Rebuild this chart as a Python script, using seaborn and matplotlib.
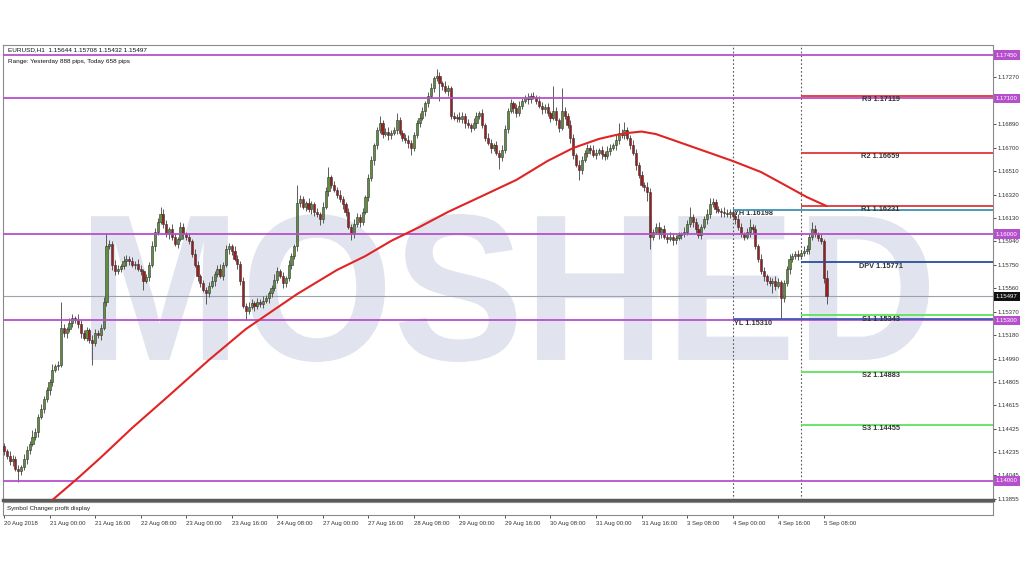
import matplotlib

matplotlib.use("Agg")
import matplotlib.pyplot as plt
import numpy as np
import pandas as pd
import seaborn as sns
from matplotlib.font_manager import FontProperties
from matplotlib.patches import PathPatch
from matplotlib.textpath import TextPath
from matplotlib.transforms import Affine2D, blended_transform_factory

# EURUSD H1 candles, 20 Aug 2018 08:00 onward (one value per hourly bar)
FIRST_OPEN = 1.1428
CLOSES = [
    1.1424, 1.1420, 1.1416, 1.1418, 1.1410, 1.1408, 1.1411, 1.1418, 1.1425, 1.1430,
    1.1436, 1.1440, 1.1452, 1.1458, 1.1466, 1.1474, 1.1480, 1.1490, 1.1493, 1.1494,
    1.1524, 1.1520, 1.1523, 1.1528, 1.1532, 1.1530, 1.1527, 1.1520, 1.1516, 1.1522,
    1.1514, 1.1512, 1.1520, 1.1518, 1.1524, 1.1545, 1.1590, 1.1592, 1.1575, 1.1570,
    1.1572, 1.1574, 1.1578, 1.1580, 1.1578, 1.1575, 1.1576, 1.1572, 1.1570, 1.1562,
    1.1565, 1.1575, 1.1590, 1.1602, 1.1610, 1.1616, 1.1608, 1.1600, 1.1604, 1.1598,
    1.1592, 1.1596, 1.1606, 1.1600, 1.1598, 1.1594, 1.1584, 1.1575, 1.1566, 1.1560,
    1.1555, 1.1552, 1.1558, 1.1562, 1.1568, 1.1572, 1.1566, 1.1575, 1.1588, 1.1590,
    1.1586, 1.1580, 1.1576, 1.1562, 1.1542, 1.1538, 1.1541, 1.1544, 1.1542, 1.1545,
    1.1543, 1.1546, 1.1548, 1.1552, 1.1556, 1.1563, 1.1570, 1.1566, 1.1560, 1.1564,
    1.1575, 1.1582, 1.1590, 1.1625, 1.1628, 1.1622, 1.1625, 1.1620, 1.1624, 1.1618,
    1.1616, 1.1612, 1.1622, 1.1635, 1.1646, 1.1640, 1.1636, 1.1632, 1.1628, 1.1624,
    1.1618, 1.1606, 1.1600, 1.1608, 1.1614, 1.1610, 1.1618, 1.1630, 1.1645, 1.1660,
    1.1672, 1.1684, 1.1690, 1.1681, 1.1683, 1.1680, 1.1682, 1.1684, 1.1692, 1.1682,
    1.1678, 1.1676, 1.1674, 1.1670, 1.1680, 1.1690, 1.1694, 1.1700, 1.1706, 1.1712,
    1.1718, 1.1726, 1.1728, 1.1722, 1.1720, 1.1716, 1.1718, 1.1696, 1.1694, 1.1695,
    1.1693, 1.1696, 1.1690, 1.1688, 1.1686, 1.1690, 1.1696, 1.1698, 1.1688, 1.1678,
    1.1674, 1.1670, 1.1672, 1.1666, 1.1662, 1.1668, 1.1685, 1.1700, 1.1706, 1.1702,
    1.1698, 1.1704, 1.1708, 1.1710, 1.1709, 1.1712, 1.1711, 1.1708, 1.1704, 1.1701,
    1.1703, 1.1698, 1.1694, 1.1700, 1.1692, 1.1686, 1.1700, 1.1696, 1.1688, 1.1678,
    1.1664, 1.1656, 1.1652, 1.1660, 1.1666, 1.1670, 1.1668, 1.1664, 1.1666, 1.1668,
    1.1665, 1.1663, 1.1667, 1.1670, 1.1672, 1.1676, 1.1682, 1.1680, 1.1684, 1.1678,
    1.1672, 1.1666, 1.1656, 1.1648, 1.1640, 1.1638, 1.1634, 1.1598, 1.1602, 1.1606,
    1.1600, 1.1604, 1.1598, 1.1596, 1.1598, 1.1595, 1.1597, 1.1599, 1.1600, 1.1602,
    1.1608, 1.1614, 1.1610, 1.1604, 1.1599, 1.1606, 1.1612, 1.1616, 1.1624, 1.1626,
    1.1620, 1.1619, 1.1618, 1.1617, 1.1616, 1.1618, 1.1615, 1.1612, 1.1606, 1.1600,
    1.1598, 1.1602, 1.1606, 1.1604, 1.1590, 1.1580, 1.1570, 1.1566, 1.1562, 1.1560,
    1.1562, 1.1558, 1.1561, 1.1548, 1.1560, 1.1572, 1.1580, 1.1582, 1.1584, 1.1582,
    1.1585, 1.1586, 1.1588, 1.1598, 1.1604, 1.1600, 1.1597, 1.1594, 1.15644, 1.15497,
]
UPPER_WICK_PIPS = [
    3, 2, 4, 3, 2, 3, 2, 4, 3, 2,  5, 3, 2, 4, 3, 2, 3, 5, 2, 3,
    21, 3, 2, 4, 3, 2, 5, 3, 2, 3,  2, 4, 3, 2, 3, 4, 11, 3, 2, 4,
    3, 2, 4, 3, 2, 3, 2, 4, 3, 2,  3, 2, 4, 3, 3, 6, 4, 3, 2, 4,
    3, 2, 4, 3, 2, 3, 2, 4, 3, 2,  3, 2, 3, 4, 2, 3, 4, 2, 3, 3,
    2, 4, 3, 2, 3, 2, 4, 3, 2, 3,  2, 4, 3, 2, 3, 5, 3, 2, 3, 2,
    4, 3, 2, 15, 4, 3, 2, 4, 3, 2,  3, 2, 4, 3, 8, 2, 3, 2, 4, 3,
    2, 3, 2, 4, 3, 2, 3, 2, 4, 3,  2, 3, 6, 2, 3, 4, 2, 3, 6, 3,
    2, 3, 4, 2, 3, 2, 4, 3, 2, 3,  4, 2, 6, 3, 2, 4, 3, 2, 3, 2,
    4, 3, 2, 3, 2, 4, 3, 2, 3, 2,  4, 3, 2, 3, 2, 4, 3, 2, 3, 2,
    3, 4, 2, 3, 4, 2, 3, 2, 4, 3,  2, 3, 2, 20, 3, 2, 18, 3, 2, 4,
    3, 2, 4, 3, 2, 3, 2, 4, 3, 2,  3, 2, 4, 3, 2, 4, 8, 3, 7, 3,
    2, 4, 3, 2, 3, 2, 4, 3, 2, 3,  4, 2, 3, 2, 4, 3, 2, 3, 2, 4,
    3, 8, 2, 3, 4, 2, 3, 4, 5, 3,  2, 3, 2, 4, 3, 2, 3, 2, 4, 3,
    2, 3, 6, 2, 3, 2, 4, 3, 2, 3,  2, 4, 3, 2, 3, 2, 4, 3, 2, 3,
    2, 4, 3, 2, 6, 3, 2, 3, 2, 6.4,
]
LOWER_WICK_PIPS = [
    3, 2, 3, 4, 2, 9, 3, 2, 4, 3,  2, 3, 4, 2, 3, 2, 4, 3, 2, 3,
    2, 3, 4, 2, 3, 2, 3, 4, 2, 3,  2, 18, 3, 2, 4, 2, 3, 2, 4, 3,
    2, 3, 2, 4, 3, 2, 3, 2, 3, 7,  2, 3, 2, 4, 3, 2, 3, 2, 4, 3,
    2, 3, 2, 4, 3, 2, 3, 2, 4, 3,  2, 9, 3, 2, 4, 3, 2, 3, 2, 4,
    3, 2, 4, 3, 2, 8, 3, 2, 4, 3,  2, 3, 2, 4, 3, 2, 3, 2, 4, 3,
    2, 3, 2, 4, 3, 2, 3, 2, 4, 3,  2, 5, 3, 2, 4, 3, 2, 3, 2, 4,
    3, 2, 5, 3, 2, 4, 3, 2, 3, 2,  4, 3, 2, 3, 2, 4, 3, 2, 3, 2,
    3, 2, 4, 6, 3, 2, 3, 2, 4, 3,  2, 3, 2, 14, 3, 2, 4, 3, 2, 3,
    2, 3, 4, 2, 3, 2, 4, 3, 2, 3,  2, 4, 3, 2, 9, 3, 2, 3, 2, 4,
    3, 2, 3, 2, 4, 3, 2, 3, 2, 4,  3, 2, 3, 2, 4, 3, 2, 3, 2, 4,
    3, 2, 8, 3, 2, 4, 3, 2, 3, 2,  4, 3, 2, 3, 2, 4, 3, 2, 3, 2,
    3, 2, 4, 3, 2, 3, 7, 10, 3, 2,  4, 3, 2, 3, 2, 4, 3, 2, 3, 2,
    3, 2, 4, 3, 2, 3, 2, 4, 3, 2,  3, 2, 4, 3, 2, 3, 2, 4, 3, 2,
    3, 2, 4, 3, 2, 3, 2, 4, 3, 2,  8, 3, 2, 17, 3, 2, 4, 3, 2, 3,
    2, 3, 2, 4, 3, 2, 3, 2, 4, 6.5,
]

# red moving average at a set of bars
MA_BARS = [17, 26, 34, 45, 57, 72, 85, 103, 117, 127, 136, 146, 156, 168,
           180, 191, 200, 209, 215, 219, 224, 229, 234, 246, 256, 266, 275,
           282, 289]
MA_VALUES = [1.13846, 1.14024, 1.14190, 1.14429, 1.14672, 1.14980, 1.15231,
             1.15514, 1.15709, 1.15822, 1.15944, 1.16057, 1.16179, 1.16308,
             1.16438, 1.16592, 1.16697, 1.16770, 1.16802, 1.16818, 1.16830,
             1.16810, 1.16770, 1.16673, 1.16592, 1.16502, 1.16389, 1.16300,
             1.16227]

TIME_LABELS = ["20 Aug 2018", "21 Aug 00:00", "21 Aug 16:00", "22 Aug 08:00",
               "23 Aug 00:00", "23 Aug 16:00", "24 Aug 08:00", "27 Aug 00:00",
               "27 Aug 16:00", "28 Aug 08:00", "29 Aug 00:00", "29 Aug 16:00",
               "30 Aug 08:00", "31 Aug 00:00", "31 Aug 16:00", "3 Sep 08:00",
               "4 Sep 00:00", "4 Sep 16:00", "5 Sep 08:00"]
TIME_TICK_BARS = [0, 16, 32, 48, 64, 80, 96, 112, 128, 144, 160, 176, 192,
                  208, 224, 240, 256, 272, 288]
DAY_BREAK_BARS = [256, 280]

PRICE_TICKS = [1.17270, 1.16890, 1.16700, 1.16510, 1.16320, 1.16130, 1.15940,
               1.15750, 1.15560, 1.15370, 1.15180, 1.14990, 1.14805, 1.14615,
               1.14425, 1.14235, 1.14045, 1.13855]
ROUND_LEVELS = [1.17450, 1.17100, 1.16000, 1.15300, 1.14000]
LAST_PRICE = 1.15497

PIVOT_NAMES = ["R3", "R2", "R1", "DPV", "S1", "S2", "S3"]
PIVOT_VALUES = [1.17119, 1.16659, 1.16231, 1.15771, 1.15343, 1.14883, 1.14455]
YESTERDAY_HIGH = 1.16198
YESTERDAY_LOW = 1.15310

HEADER = "EURUSD,H1  1.15644 1.15708 1.15432 1.15497"
RANGE_TEXT = "Range: Yesterday 888 pips, Today 658 pips"

PIP = 0.0001
PURPLE = "#b64fce"
BULL = "#5f8f3c"
BEAR = "#a31c1c"
PIVOT_COLORS = ["#e23636", "#e23636", "#e23636", "#2c4c9e",
                "#5fe05f", "#5fe05f", "#5fe05f"]

sns.set_theme(style="white")
plt.rcParams["font.family"] = ["Liberation Sans", "DejaVu Sans"]

candles = pd.DataFrame({"close": CLOSES})
candles["open"] = [FIRST_OPEN] + CLOSES[:-1]
candles["high"] = candles[["open", "close"]].max(axis=1) + np.array(UPPER_WICK_PIPS) * PIP
candles["low"] = candles[["open", "close"]].min(axis=1) - np.array(LOWER_WICK_PIPS) * PIP
candles["bar"] = np.arange(len(candles))
candles["bull"] = candles["close"] >= candles["open"]

W, H = 1024, 576
fig = plt.figure(figsize=(W / 100, H / 100), dpi=100)
fig.patch.set_facecolor("white")
ax = fig.add_axes([3 / W, 1 - 500 / H, 990 / W, 455 / H])
sub = fig.add_axes([3 / W, 1 - 515 / H, 990 / W, 13 / H], sharex=ax)

X_MAX = 347.5
ax.set_xlim(-0.35, X_MAX)
ax.set_ylim(1.13846, 1.17531)

# watermark
tp = TextPath((0, 0), "MOSHED", size=100,
              prop=FontProperties(family="Liberation Sans", weight="bold"))
ext = tp.get_extents()
x0, x1 = 91 / W, 929 / W
y0, y1 = 1 - 362 / H, 1 - 214 / H
wm_tr = (Affine2D().translate(-ext.x0, -ext.y0)
         .scale((x1 - x0) / ext.width, (y1 - y0) / ext.height)
         .translate(x0, y0) + fig.transFigure)
ax.add_patch(PathPatch(tp, transform=wm_tr, facecolor="#e1e4ee",
                       edgecolor="none", zorder=0.5))

# candles
ax.vlines(candles["bar"], candles["low"], candles["high"], color="#505050",
          lw=0.65, zorder=3)
body = (candles["close"] - candles["open"]).abs().clip(lower=0.00004)
ax.bar(candles["bar"], body, bottom=candles[["open", "close"]].min(axis=1),
       width=0.75, color=np.where(candles["bull"], BULL, BEAR),
       edgecolor="#333333", linewidth=0.4, zorder=3.1)

# horizontal levels
for lvl in ROUND_LEVELS:
    ax.axhline(lvl, color=PURPLE, lw=1.3, zorder=4)
ax.axhline(LAST_PRICE, color="#9ca3ae", lw=0.8, zorder=2)

for bar in DAY_BREAK_BARS:
    ax.axvline(bar, color="#555555", lw=0.8, ls=(0, (1.5, 2)), zorder=2)

ax.hlines(YESTERDAY_HIGH, DAY_BREAK_BARS[0], X_MAX, color="#3d93b3", lw=1.3, zorder=4)
ax.hlines(YESTERDAY_LOW, DAY_BREAK_BARS[0], X_MAX, color="#4756b5", lw=1.3, zorder=4.5)
ax.text(DAY_BREAK_BARS[0] + 0.5, YESTERDAY_HIGH - 0.00004, f"YH {YESTERDAY_HIGH:.5f}",
        fontsize=5.3, fontweight="bold", color="#333333", va="top", ha="left", zorder=3)
ax.text(DAY_BREAK_BARS[0] + 0.5, YESTERDAY_LOW - 0.00004, f"YL {YESTERDAY_LOW:.5f}",
        fontsize=5.3, fontweight="bold", color="#333333", va="top", ha="left", zorder=5)

for name, val, col in zip(PIVOT_NAMES, PIVOT_VALUES, PIVOT_COLORS):
    ax.hlines(val, DAY_BREAK_BARS[1], X_MAX, color=col, lw=1.3, zorder=4)
    ax.text(308, val - 0.00004, f"{name} {val:.5f}", fontsize=5.3,
            fontweight="bold", color="#333333", va="top", ha="center", zorder=5)

# moving average
sns.lineplot(x=MA_BARS, y=MA_VALUES, color="#e02424", lw=1.5, ax=ax, zorder=5)

# right price axis
ax.yaxis.tick_right()
ax.set_yticks(PRICE_TICKS)
ax.set_yticklabels([f"{p:.5f}" for p in PRICE_TICKS])
ax.tick_params(axis="y", which="both", right=True, left=False, length=2,
               width=0.6, pad=1.5, labelsize=4.3, colors="#333333")
ax.tick_params(axis="x", bottom=False, labelbottom=False)
ax.set_xlabel("")
ax.set_ylabel("")

yt = blended_transform_factory(ax.transAxes, ax.transData)
for lvl in ROUND_LEVELS:
    ax.text(1.003, lvl, f"{lvl:.5f}", transform=yt, fontsize=4.3, color="white",
            va="center", ha="left", clip_on=False, zorder=6,
            bbox=dict(boxstyle="square,pad=0.35", fc=PURPLE, ec="none"))
ax.text(1.003, LAST_PRICE, f"{LAST_PRICE:.5f}", transform=yt, fontsize=4.3,
        color="white", va="center", ha="left", clip_on=False, zorder=6,
        bbox=dict(boxstyle="square,pad=0.35", fc="#111111", ec="none"))

for side in ["left", "top", "right"]:
    ax.spines[side].set_color("#8a8a8a")
    ax.spines[side].set_linewidth(0.8)
ax.spines["bottom"].set_color("#5a5a5a")
ax.spines["bottom"].set_linewidth(2.5)

# indicator sub-window and time axis
sub.set_yticks([])
sub.set_xticks(TIME_TICK_BARS)
sub.set_xticklabels(TIME_LABELS, ha="left")
sub.tick_params(axis="x", length=2.5, width=0.6, pad=1.5, labelsize=4.3,
                colors="#333333", bottom=True)
for side in sub.spines:
    sub.spines[side].set_color("#8a8a8a")
    sub.spines[side].set_linewidth(0.8)
sub.text(0.004, 0.5, "Symbol Changer profit display", transform=sub.transAxes,
         fontsize=4.5, color="#222222", va="center", ha="left")

fig.text(8 / W, 1 - 50 / H, HEADER, fontsize=4.6, color="#111111", va="center")
fig.text(8 / W, 1 - 61 / H, RANGE_TEXT, fontsize=4.6, color="#111111", va="center")

fig.savefig("out.png", dpi=100, facecolor="white")
